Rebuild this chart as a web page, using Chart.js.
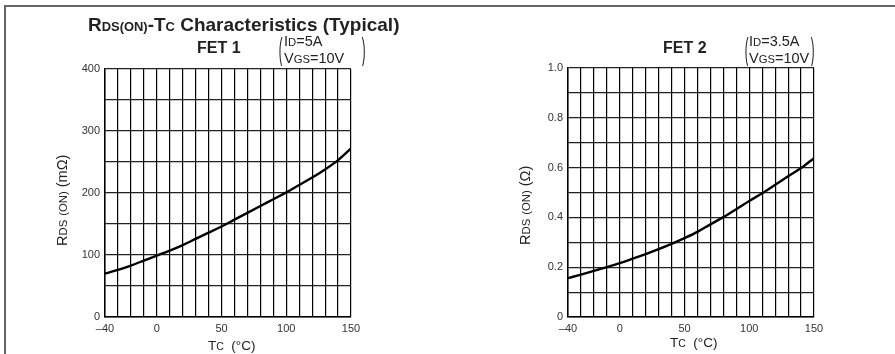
<!DOCTYPE html>
<html>
<head>
<meta charset="utf-8">
<script src="https://cdn.jsdelivr.net/npm/chart.js@4.4.1/dist/chart.umd.min.js"></script>
<style>
  body { margin: 0; background: #fff; font-family: "Liberation Sans", Arial, sans-serif; color: #222; }
  #page { position: relative; width: 895px; height: 354px; overflow: hidden; }
  #frame { position: absolute; left: 4px; top: 5px; width: 900px; height: 360px;
           border-top: 2px solid #666; border-left: 2px solid #666; }
  canvas { position: absolute; top: 0; }
  .txt { position: absolute; white-space: nowrap; }
  .s { font-size: 68%; }
  .s2 { font-size: 78%; }
  #title { left: 88px; top: 14px; font-size: 19px; font-weight: bold; }
  .fet { font-size: 16px; font-weight: bold; }
  .cond { font-size: 14.5px; line-height: 16px; }
  .par { position: absolute; font-size: 15px; line-height: 15px; transform: scale(0.75, 2.05); transform-origin: 50% 50%; }
  .xt { font-size: 13.5px; }
  .yt { font-size: 14.5px; transform: rotate(-90deg); transform-origin: 0 0; }
</style>
</head>
<body>
<div id="page">
  <div id="frame"></div>
  <canvas id="fet1" width="447" height="354" style="left:0"></canvas>
  <canvas id="fet2" width="448" height="354" style="left:447px"></canvas>

  <div id="title" class="txt">R<span class="s">DS(ON)</span>-T<span class="s">C</span> Characteristics (Typical)</div>

  <div class="txt fet" style="left:197px; top:39px">FET 1</div>
  <div class="txt cond" style="left:278px; top:33px">
    <span class="par" style="left:0; top:8px">(</span>
    <div style="margin-left:6px">I<span class="s2">D</span>=5A</div>
    <div style="margin-left:6px">V<span class="s2">GS</span>=10V</div>
    <span class="par" style="left:83px; top:8px">)</span>
  </div>

  <div class="txt fet" style="left:663px; top:39px">FET 2</div>
  <div class="txt cond" style="left:744px; top:33px">
    <span class="par" style="left:0; top:8px">(</span>
    <div style="margin-left:5px">I<span class="s2">D</span>=3.5A</div>
    <div style="margin-left:5px">V<span class="s2">GS</span>=10V</div>
    <span class="par" style="left:66px; top:8px">)</span>
  </div>

  <div class="txt xt" style="left:208px; top:338px">T<span class="s2">C</span>&nbsp;&nbsp;(°C)</div>
  <div class="txt xt" style="left:670px; top:335px">T<span class="s2">C</span>&nbsp;&nbsp;(°C)</div>

  <div class="txt yt" style="left:54px; top:246px">R<span class="s2">DS</span> <span class="s2">(ON)</span> (mΩ)</div>
  <div class="txt yt" style="left:517px; top:245px">R<span class="s2">DS</span> <span class="s2">(ON)</span> (Ω)</div>
</div>

<script>
// case temperature, °C
var tempC = [-40, -30, -20, -10, 0, 10, 20, 30, 40, 50, 60, 70, 80, 90, 100, 110, 120, 130, 140, 150];
// FET 1, RDS(ON) in mΩ (ID=5A, VGS=10V)
var fet1Rds = [70, 76, 83, 91, 99, 107, 116, 126, 136, 146, 157, 168, 179, 190, 201, 213, 225, 238, 253, 272];
// FET 2, RDS(ON) in Ω (ID=3.5A, VGS=10V)
var fet2Rds = [0.156, 0.170, 0.185, 0.200, 0.216, 0.234, 0.253, 0.273, 0.294, 0.317, 0.342, 0.372, 0.401, 0.433, 0.466, 0.497, 0.531, 0.565, 0.598, 0.638];
// labelled ticks
var xLabels = [-40, 0, 50, 100, 150];
var fet1YLabels = [0, 100, 200, 300, 400];
var fet2YLabels = [0, 0.2, 0.4, 0.6, 0.8, 1.0];

function points(xs, ys) {
	var out = [];
	for (var i = 0; i < xs.length; i++) out.push({x: xs[i], y: ys[i]});
	return out;
}

function makeChart(id, values, yMax, yStep, yLabel, pad) {
	var ctx = document.getElementById(id);
	return new Chart(ctx, {
		type: 'line',
		data: {
			datasets: [{
				data: points(tempC, values),
				borderColor: '#000',
				borderWidth: 2.4,
				pointRadius: 0,
				cubicInterpolationMode: 'monotone',
				fill: false
			}]
		},
		options: {
			responsive: false,
			animation: false,
			events: [],
			layout: { padding: pad },
			plugins: { legend: { display: false }, tooltip: { enabled: false } },
			scales: {
				x: {
					type: 'linear', min: -40, max: 150,
					grid: { color: '#000', lineWidth: 1.2, drawTicks: false },
					border: { color: '#000', width: 1.5 },
					ticks: {
						stepSize: 10, padding: 5, color: '#333', maxRotation: 0, autoSkip: false,
						font: { family: 'Liberation Sans', size: 11 },
						callback: function(v) {
							if (xLabels.indexOf(v) < 0) return '';
							return v < 0 ? '\u2013' + Math.abs(v) : String(v);
						}
					},
					afterFit: function(s) { s.height = 30; }
				},
				y: {
					min: 0, max: yMax,
					grid: { color: '#222', lineWidth: 1.2, drawTicks: false },
					border: { color: '#000', width: 1.5 },
					ticks: {
						stepSize: yStep, padding: 5, color: '#333', autoSkip: false,
						font: { family: 'Liberation Sans', size: 11 },
						callback: yLabel
					},
					afterFit: function(s) { s.width = 45; }
				}
			}
		}
	});
}

makeChart('fet1', fet1Rds, 400, 50, function(v) {
	return fet1YLabels.indexOf(v) >= 0 ? String(v) : '';
}, { left: 60, right: 96, top: 69, bottom: 7 });

makeChart('fet2', fet2Rds, 1.0, 0.1, function(v) {
	var r = Math.round(v * 10) / 10;
	if (fet2YLabels.indexOf(r) < 0) return '';
	return r === 0 ? '0' : r.toFixed(1);
}, { left: 76, right: 81, top: 68, bottom: 7 });
</script>
</body>
</html>
